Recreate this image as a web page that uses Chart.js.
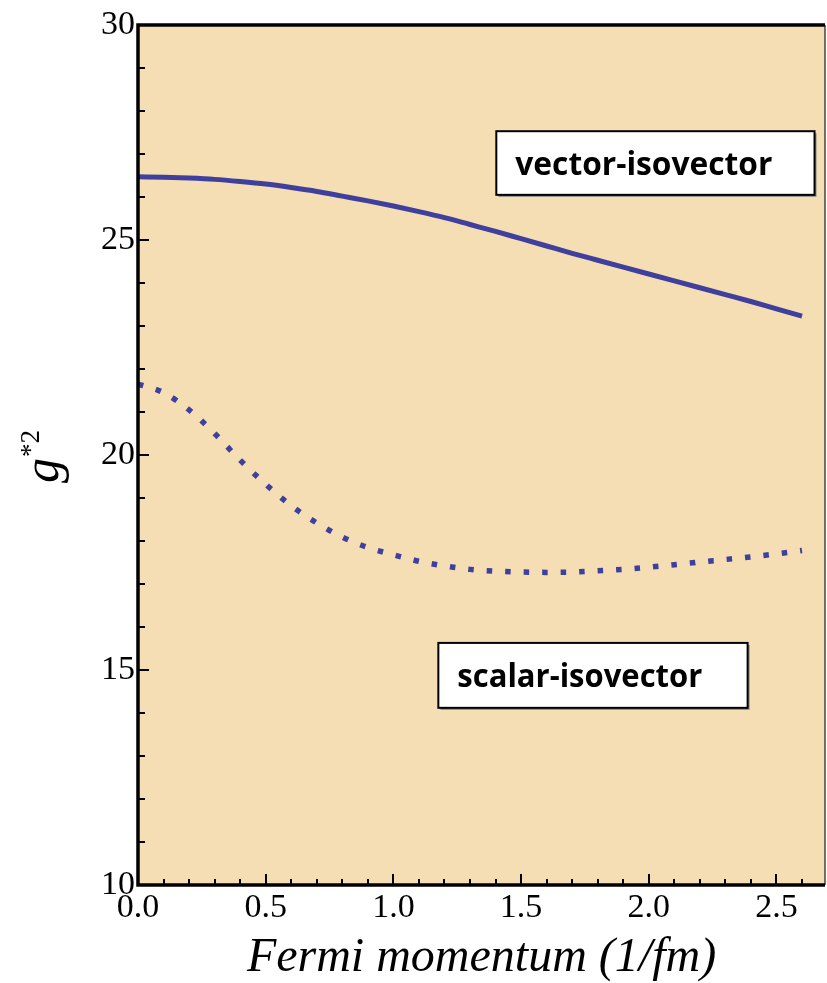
<!DOCTYPE html>
<html>
<head>
<meta charset="utf-8">
<script src="https://cdn.jsdelivr.net/npm/chart.js@4/dist/chart.umd.min.js"></script>
<style>
  html, body { margin: 0; padding: 0; background: #ffffff; }
  #wrap { width: 827px; height: 983px; }
</style>
</head>
<body>
<div id="wrap"><canvas id="chart" width="827" height="983"></canvas></div>
<script>
// Fermi momentum grid (1/fm)
const fermiMomentum = [0.0, 0.1, 0.2, 0.3, 0.4, 0.5, 0.6, 0.7, 0.8, 0.9,
                       1.0, 1.1, 1.2, 1.3, 1.4, 1.5, 1.6, 1.7, 1.8, 1.9,
                       2.0, 2.1, 2.2, 2.3, 2.4, 2.5, 2.6];

// effective couplings g*^2
const vectorIsovector = [26.47, 26.46, 26.44, 26.41, 26.36, 26.30, 26.22, 26.13, 26.02, 25.91,
                         25.79, 25.66, 25.52, 25.36, 25.20, 25.03, 24.86, 24.69, 24.53, 24.37,
                         24.21, 24.05, 23.89, 23.73, 23.57, 23.40, 23.23];
const scalarIsovector = [21.65, 21.45, 21.05, 20.50, 19.88, 19.32, 18.82, 18.42, 18.09, 17.85,
                         17.68, 17.53, 17.42, 17.34, 17.30, 17.28, 17.27, 17.28, 17.31, 17.34,
                         17.39, 17.45, 17.51, 17.57, 17.63, 17.70, 17.78];

const seriesNames = ['vector-isovector', 'scalar-isovector'];
const xTickValues = [0.0, 0.5, 1.0, 1.5, 2.0, 2.5];
const yTickValues = [10, 15, 20, 25, 30];

const lineColor = '#3f3f9d';
const plotFill = '#f5deb3';

// label boxes, placed in data coordinates
const labelBoxes = [
  { text: seriesNames[0], x0: 1.403, x1: 2.649, yTop: 27.53, yBottom: 26.05, textWidth: 257 },
  { text: seriesNames[1], x0: 1.176, x1: 2.387, yTop: 15.63, yBottom: 14.12, textWidth: 245 }
];

function toPoints(xs, ys) {
  return xs.map((x, i) => ({ x: x, y: ys[i] }));
}

function stepsBetween(min, max, step) {
  const out = [];
  const n = Math.round((max - min) / step);
  for (let i = 0; i <= n; i++) out.push(+(min + i * step).toFixed(6));
  return out;
}

const plotBackground = {
  id: 'plotBackground',
  beforeDraw(chart) {
    const { ctx, chartArea: a } = chart;
    ctx.save();
    ctx.fillStyle = plotFill;
    ctx.fillRect(a.left, a.top, a.right - a.left, a.bottom - a.top);
    ctx.restore();
  }
};

// frame, inward tick marks, label boxes and y-axis title
const frameAndLabels = {
  id: 'frameAndLabels',
  afterDraw(chart) {
    const { ctx, chartArea: a } = chart;
    const xs = chart.scales.x, ys = chart.scales.y;
    ctx.save();

    // right edge (thin) then the heavy left, bottom and top edges
    ctx.strokeStyle = '#444';
    ctx.lineWidth = 1.5;
    ctx.beginPath();
    ctx.moveTo(a.right, a.top);
    ctx.lineTo(a.right, a.bottom);
    ctx.stroke();

    ctx.strokeStyle = '#000';
    ctx.lineWidth = 3.5;
    ctx.beginPath();
    ctx.moveTo(a.right, a.top);
    ctx.lineTo(a.left, a.top);
    ctx.lineTo(a.left, a.bottom);
    ctx.lineTo(a.right, a.bottom);
    ctx.stroke();

    // x ticks along the bottom axis
    ctx.lineWidth = 2;
    stepsBetween(0, 2.6, 0.1).forEach(v => {
      const px = Math.round(xs.getPixelForValue(v));
      const major = xTickValues.some(t => Math.abs(t - v) < 1e-6);
      const len = major ? 11 : 6;
      ctx.beginPath();
      ctx.moveTo(px, a.bottom);
      ctx.lineTo(px, a.bottom - len);
      ctx.stroke();
    });
    // y ticks along the left axis
    stepsBetween(10, 30, 1).forEach(v => {
      const py = Math.round(ys.getPixelForValue(v));
      const major = yTickValues.some(t => Math.abs(t - v) < 1e-6);
      const len = major ? 11 : 7;
      ctx.beginPath();
      ctx.moveTo(a.left, py);
      ctx.lineTo(a.left + len, py);
      ctx.stroke();
    });

    // series label boxes
    labelBoxes.forEach(b => {
      const left = xs.getPixelForValue(b.x0), right = xs.getPixelForValue(b.x1);
      const top = ys.getPixelForValue(b.yTop), bottom = ys.getPixelForValue(b.yBottom);
      const w = right - left, h = bottom - top;
      ctx.fillStyle = '#8a8a8a';
      ctx.fillRect(left + 2, top + 2, w, h);
      ctx.fillStyle = '#ffffff';
      ctx.fillRect(left, top, w, h);
      ctx.strokeStyle = '#000';
      ctx.lineWidth = 2;
      ctx.strokeRect(left, top, w, h);
      ctx.fillStyle = '#000';
      ctx.font = 'bold 33px "Open Sans", "Noto Sans", sans-serif';
      ctx.textAlign = 'left';
      ctx.textBaseline = 'alphabetic';
      ctx.fillText(b.text, left + 19, top + 44, b.textWidth);
    });

    // y-axis title: g*^2, rotated
    ctx.translate(58, 483);
    ctx.rotate(-Math.PI / 2);
    ctx.fillStyle = '#000';
    ctx.textAlign = 'left';
    ctx.textBaseline = 'alphabetic';
    ctx.font = 'italic 50px "Liberation Serif", "DejaVu Serif", serif';
    ctx.fillText('g', 0, 0);
    const gw = ctx.measureText('g').width;
    ctx.font = '27px "Liberation Serif", "DejaVu Serif", serif';
    ctx.fillText('*2', gw + 1, -19);
    ctx.restore();
  }
};

new Chart(document.getElementById('chart'), {
  type: 'line',
  data: {
    datasets: [
      {
        label: seriesNames[0],
        data: toPoints(fermiMomentum, vectorIsovector),
        borderColor: lineColor,
        borderWidth: 5,
        borderCapStyle: 'butt',
        pointRadius: 0,
        cubicInterpolationMode: 'monotone',
        fill: false
      },
      {
        label: seriesNames[1],
        data: toPoints(fermiMomentum, scalarIsovector),
        borderColor: lineColor,
        borderWidth: 5.5,
        borderDash: [5.5, 13],
        borderCapStyle: 'butt',
        pointRadius: 0,
        cubicInterpolationMode: 'monotone',
        fill: false
      }
    ]
  },
  options: {
    responsive: false,
    animation: false,
    devicePixelRatio: 1,
    layout: { padding: { top: 25, right: 2, bottom: 0, left: 0 } },
    plugins: { legend: { display: false }, tooltip: { enabled: false } },
    scales: {
      x: {
        type: 'linear',
        min: 0,
        max: 2.69,
        afterBuildTicks(scale) { scale.ticks = xTickValues.map(v => ({ value: v })); },
        afterFit(scale) { scale.height = 98; },
        ticks: {
          callback: v => Number(v).toFixed(1),
          font: { family: '"Liberation Serif", "DejaVu Serif", serif', size: 34 },
          color: '#000',
          padding: 3,
          maxRotation: 0,
          autoSkip: false
        },
        grid: { display: false, drawTicks: false },
        border: { display: false },
        title: {
          display: true,
          text: 'Fermi momentum (1/fm)',
          font: { family: '"Liberation Serif", "DejaVu Serif", serif', size: 48, style: 'italic' },
          color: '#000',
          padding: { top: 0, bottom: -4 }
        }
      },
      y: {
        min: 10,
        max: 30,
        afterBuildTicks(scale) { scale.ticks = yTickValues.map(v => ({ value: v })); },
        afterFit(scale) { scale.width = 138; },
        ticks: {
          font: { family: '"Liberation Serif", "DejaVu Serif", serif', size: 34 },
          color: '#000',
          padding: 3
        },
        grid: { display: false, drawTicks: false },
        border: { display: false }
      }
    }
  },
  plugins: [plotBackground, frameAndLabels]
});
</script>
</body>
</html>
